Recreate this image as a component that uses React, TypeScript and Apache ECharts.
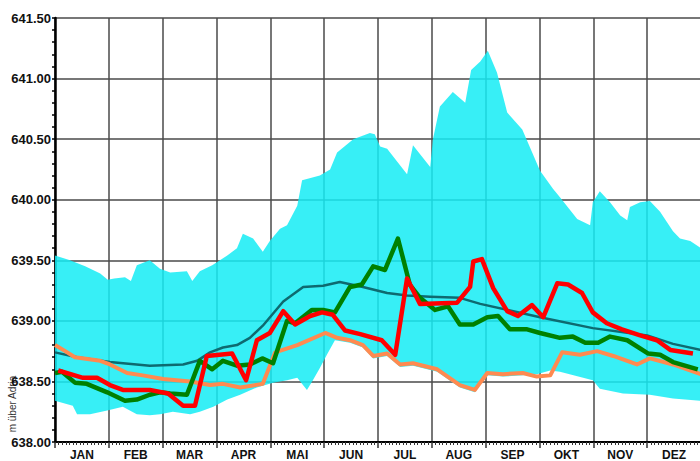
import React, { useEffect, useRef } from "react";
import * as echarts from "echarts";

const months = ["JAN", "FEB", "MAR", "APR", "MAI", "JUN", "JUL", "AUG", "SEP", "OKT", "NOV", "DEZ"];

// x = position in months (0 = 1 Jan, 12 = 31 Dec), y = m über Adria
const bandUpper: number[][] = [
  [0, 639.54], [0.28, 639.5], [0.56, 639.45], [0.84, 639.39], [0.98, 639.34], [1.1, 639.35], [1.3, 639.36],
  [1.41, 639.33], [1.52, 639.46], [1.76, 639.5], [1.95, 639.43], [2.14, 639.4], [2.45, 639.41], [2.55, 639.33],
  [2.69, 639.41], [2.92, 639.46], [3.2, 639.54], [3.38, 639.6], [3.49, 639.72], [3.68, 639.68], [3.86, 639.57],
  [3.99, 639.66], [4.18, 639.76], [4.31, 639.79], [4.5, 639.95], [4.59, 640.16], [4.92, 640.2], [5.11, 640.25],
  [5.24, 640.39], [5.54, 640.5], [5.85, 640.55], [5.94, 640.54], [6.04, 640.44], [6.17, 640.42], [6.54, 640.21],
  [6.65, 640.45], [6.97, 640.27], [7.02, 640.5], [7.15, 640.77], [7.39, 640.89], [7.62, 640.8], [7.73, 641.07],
  [7.9, 641.14], [8.04, 641.23], [8.21, 641.05], [8.4, 640.72], [8.68, 640.58], [9.01, 640.24], [9.25, 640.09],
  [9.38, 640.02], [9.7, 639.84], [9.94, 639.79], [9.99, 639.98], [10.12, 640.07], [10.31, 639.98], [10.5, 639.87],
  [10.63, 639.83], [10.68, 639.94], [10.87, 639.98], [11.05, 639.99], [11.24, 639.9], [11.48, 639.74],
  [11.61, 639.68], [11.8, 639.66], [12, 639.6],
];

const bandLower: number[][] = [
  [0, 638.34], [0.33, 638.3], [0.41, 638.23], [0.65, 638.23], [0.97, 638.26], [1.26, 638.29], [1.52, 638.23],
  [1.76, 638.22], [1.95, 638.23], [2.19, 638.25], [2.51, 638.23], [2.69, 638.25], [2.94, 638.29], [3.2, 638.35],
  [3.44, 638.39], [3.75, 638.45], [4.05, 638.49], [4.31, 638.51], [4.5, 638.53], [4.68, 638.43], [4.79, 638.51],
  [4.92, 638.61], [5.05, 638.72], [5.2, 638.84], [5.48, 638.82], [5.72, 638.78], [5.91, 638.69], [6.17, 638.71],
  [6.41, 638.62], [6.65, 638.63], [7.1, 638.58], [7.52, 638.45], [7.8, 638.41], [8.03, 638.55], [8.32, 638.54],
  [8.69, 638.55], [8.95, 638.56], [9.2, 638.59], [9.38, 638.58], [9.99, 638.51], [10.12, 638.44], [10.55, 638.4],
  [11.05, 638.39], [11.48, 638.36], [12, 638.34],
];

const meanLine: number[][] = [
  [0, 638.74], [0.41, 638.7], [1.02, 638.66], [1.76, 638.63], [2.38, 638.64], [2.64, 638.67], [2.88, 638.74],
  [3.12, 638.78], [3.38, 638.8], [3.62, 638.86], [3.86, 638.96], [4.24, 639.16], [4.61, 639.28], [4.98, 639.29],
  [5.29, 639.32], [5.72, 639.28], [6.17, 639.23], [6.54, 639.21], [6.97, 639.2], [7.52, 639.19], [7.9, 639.14],
  [9.01, 639.03], [9.99, 638.94], [11.0, 638.88], [11.48, 638.81], [12, 638.76],
];

const orangeLine: number[][] = [
  [0, 638.8], [0.19, 638.75], [0.37, 638.7], [0.84, 638.67], [1.02, 638.64], [1.34, 638.57], [1.63, 638.55],
  [2.01, 638.52], [2.51, 638.5], [2.88, 638.47], [3.12, 638.48], [3.44, 638.45], [3.86, 638.48], [4.09, 638.74],
  [4.5, 638.8], [5.02, 638.9], [5.24, 638.86], [5.48, 638.84], [5.72, 638.8], [5.91, 638.71], [6.17, 638.73],
  [6.41, 638.64], [6.65, 638.65], [7.1, 638.6], [7.52, 638.47], [7.8, 638.43], [8.03, 638.57], [8.32, 638.56],
  [8.69, 638.57], [8.95, 638.54], [9.2, 638.55], [9.42, 638.74], [9.75, 638.72], [10.07, 638.75], [10.37, 638.71],
  [10.81, 638.64], [11.05, 638.69], [11.48, 638.64], [12, 638.56],
];

const greenLine: number[][] = [
  [0, 638.57], [0.13, 638.58], [0.37, 638.49], [0.59, 638.48], [0.97, 638.41], [1.3, 638.34], [1.52, 638.35],
  [1.76, 638.39], [1.95, 638.41], [2.14, 638.4], [2.45, 638.39], [2.69, 638.67], [2.92, 638.6], [3.12, 638.67],
  [3.38, 638.63], [3.62, 638.64], [3.85, 638.69], [4.05, 638.65], [4.31, 639.0], [4.46, 638.98], [4.77, 639.09],
  [4.98, 639.09], [5.2, 639.07], [5.48, 639.28], [5.7, 639.3], [5.91, 639.45], [6.13, 639.42], [6.37, 639.68],
  [6.59, 639.3], [6.78, 639.19], [7.06, 639.09], [7.3, 639.12], [7.52, 638.97], [7.77, 638.97], [8.03, 639.03],
  [8.23, 639.04], [8.45, 638.93], [8.77, 638.93], [9.01, 638.9], [9.38, 638.86], [9.62, 638.87], [9.85, 638.82],
  [10.09, 638.82], [10.31, 638.87], [10.63, 638.84], [11.02, 638.73], [11.24, 638.72], [11.48, 638.66],
  [11.94, 638.6],
];

const redLine: number[][] = [
  [0.06, 638.59], [0.52, 638.53], [0.78, 638.53], [1.02, 638.47], [1.26, 638.43], [1.76, 638.43], [2.1, 638.4],
  [2.38, 638.3], [2.6, 638.3], [2.82, 638.71], [3.29, 638.73], [3.55, 638.51], [3.75, 638.84], [3.99, 638.9],
  [4.24, 639.08], [4.46, 638.97], [4.74, 639.04], [4.96, 639.07], [5.16, 639.05], [5.39, 638.92], [5.67, 638.89],
  [6.07, 638.84], [6.32, 638.72], [6.54, 639.35], [6.78, 639.14], [7.47, 639.15], [7.71, 639.28], [7.77, 639.49],
  [7.93, 639.51], [8.14, 639.27], [8.4, 639.08], [8.6, 639.04], [8.86, 639.13], [9.07, 639.03], [9.33, 639.31],
  [9.53, 639.3], [9.79, 639.23], [9.99, 639.07], [10.25, 638.98], [10.53, 638.93], [10.87, 638.88],
  [11.18, 638.84], [11.43, 638.76], [11.85, 638.73],
];

const FONT = "'Liberation Sans', Arial, sans-serif";

export default function App() {
  const ref = useRef<HTMLDivElement>(null);

  useEffect(() => {
    if (!ref.current) return;
    const chart = echarts.init(ref.current, undefined, { renderer: "svg" });
    const lineSeries = (data: number[][], color: string, width: number, z: number) => ({
      type: "line",
      data,
      showSymbol: false,
      symbol: "none",
      lineStyle: { color, width, join: "round" },
      z,
      silent: true,
    });
    chart.setOption({
      animation: false,
      backgroundColor: "#ffffff",
      grid: { left: 55, right: 1, top: 18, bottom: 16 },
      xAxis: [
        {
          type: "value",
          min: 0,
          max: 12,
          interval: 1,
          axisLine: { show: true, onZero: false, lineStyle: { color: "#000", width: 2 } },
          axisTick: { show: true, length: 6, lineStyle: { color: "#333", width: 1.5 } },
          minorTick: { show: true, splitNumber: 15, length: 3, lineStyle: { color: "#333", width: 1 } },
          axisLabel: { show: false },
          splitLine: { show: true, lineStyle: { color: "#4a4a4a", width: 1.5 } },
        },
        {
          type: "category",
          data: months,
          position: "bottom",
          boundaryGap: true,
          axisLine: { show: false },
          axisTick: { show: false },
          splitLine: { show: false },
          axisLabel: { color: "#111", fontWeight: "bold", fontSize: 12, fontFamily: FONT, margin: 7 },
        },
      ],
      yAxis: {
        type: "value",
        min: 638,
        max: 641.5,
        interval: 0.5,
        axisLine: { show: true, onZero: false, lineStyle: { color: "#000", width: 2.5 } },
        axisTick: { show: true, length: 3, lineStyle: { color: "#000", width: 1.5 } },
        minorTick: { show: true, splitNumber: 5, length: 3, lineStyle: { color: "#000", width: 1.5 } },
        axisLabel: {
          color: "#111",
          fontWeight: "bold",
          fontSize: 13,
          fontFamily: FONT,
          margin: 4,
          formatter: (v: number) => v.toFixed(2),
        },
        splitLine: { show: true, lineStyle: { color: "#4a4a4a", width: 1.5 } },
      },
      graphic: [
        {
          type: "text",
          x: 12,
          y: 404,
          rotation: Math.PI / 2,
          style: {
            text: "m über Adria",
            fill: "#333",
            font: `10px ${FONT}`,
            textAlign: "center",
            textVerticalAlign: "middle",
          },
        },
      ],
      series: [
        {
          type: "custom",
          xAxisIndex: 0,
          silent: true,
          z: 1,
          data: [[0, 638]],
          renderItem: (_params: any, api: any) => {
            const pts = bandUpper
              .map((p) => api.coord(p))
              .concat(bandLower.slice().reverse().map((p) => api.coord(p)));
            return {
              type: "polygon",
              shape: { points: pts },
              style: { fill: "#14ecf4", opacity: 0.85 },
            };
          },
        },
        lineSeries(meanLine, "#0e6a70", 2.5, 2),
        lineSeries(orangeLine, "#ff8a50", 4, 3),
        lineSeries(greenLine, "#008000", 4.5, 4),
        lineSeries(redLine, "#ff0000", 4.5, 5),
      ],
    });
    return () => chart.dispose();
  }, []);

  return (
    <div style={{ position: "fixed", left: 0, top: 0, width: 700, height: 461, overflow: "hidden", background: "#fff" }}>
      <div ref={ref} style={{ width: 702, height: 461 }} />
    </div>
  );
}
